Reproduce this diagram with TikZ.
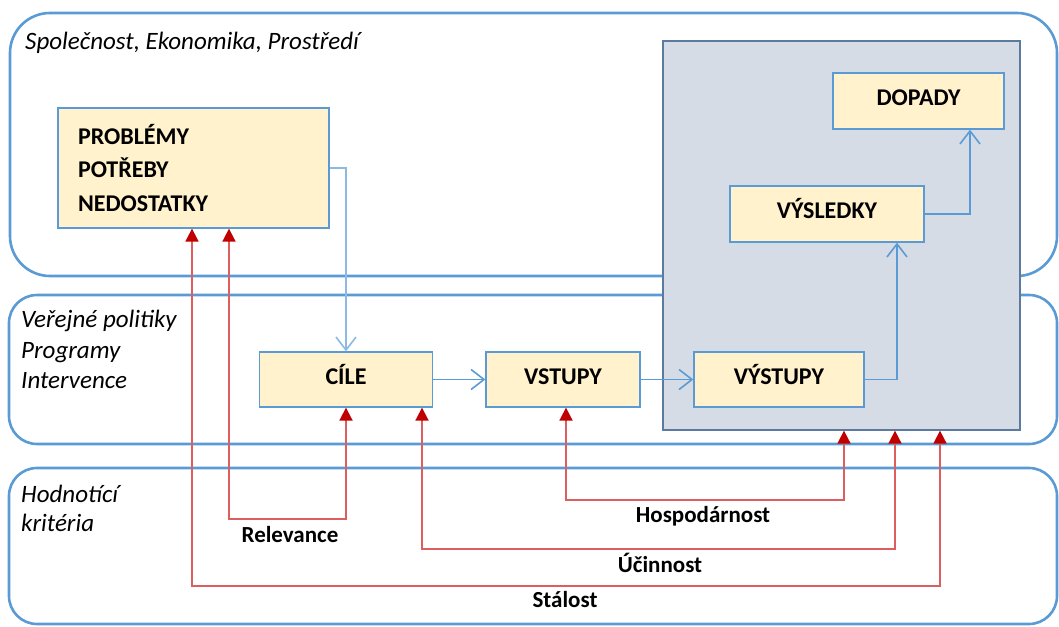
\documentclass[tikz,border=0pt]{standalone}
\usepackage{fontspec}
\setmainfont{Carlito}
\usetikzlibrary{arrows.meta}
\definecolor{regionblue}{HTML}{5B9BD5}
\definecolor{paleblue}{HTML}{8DB9E3}
\definecolor{stagefill}{HTML}{FFF2CC}
\definecolor{impactfill}{HTML}{D6DCE5}
\definecolor{impactedge}{HTML}{5A7AA0}
\definecolor{critred}{HTML}{C00000}
\definecolor{critline}{HTML}{DD5E5E}
\tikzset{
  flowhead/.tip={Straight Barb[length=13pt,width=20pt]},
  crithead/.tip={Triangle[length=13pt,width=13pt,color=critred]},
  region/.style={draw=regionblue, line width=2.6pt},
  regionlabel/.style={anchor=west, inner sep=0pt, font=\fontsize{25}{30}\selectfont\itshape},
  stage/.style={draw=regionblue, fill=stagefill, line width=1.3pt, minimum height=55pt, inner sep=0pt, font=\fontsize{24}{33.5}\selectfont\bfseries},
  onestage/.style={stage, text height=16pt, text depth=6.5pt},
  flow/.style={draw=regionblue, line width=1.6pt, -flowhead},
  crit/.style={draw=critline, line width=1.8pt, crithead-crithead},
  critlabel/.style={inner sep=0pt, font=\fontsize{23}{28}\selectfont\bfseries}
}
\begin{document}
\begin{tikzpicture}[x=1pt, y=-1pt]
\useasboundingbox (0,0) rectangle (1059,626);

% the three levels
\draw[region, rounded corners=40pt] (10,13) rectangle (1057,276);
\draw[region, rounded corners=28pt] (9,295) rectangle (1057,444);
\draw[region, rounded corners=28pt] (9,468) rectangle (1057,624);
\node[regionlabel] (society) at (25,43) {Společnost, Ekonomika, Prostředí};
\node[regionlabel] (policy) at (21,321) {Veřejné politiky};
\node[regionlabel] (programs) at (21,353) {Programy};
\node[regionlabel] (interv) at (21,381) {Intervence};
\node[regionlabel] (criteria) at (21,494) {Hodnotící};
\node[regionlabel] (criteria2) at (21,523) {kritéria};

% results block
\node[draw=impactedge, fill=impactfill, line width=1.3pt, minimum width=357pt, minimum height=389pt, inner sep=0pt] (impact) at (841.5,235.5) {};

% stages
\node[stage, minimum width=271pt, minimum height=120pt, text width=231pt, align=left] (prob) at (193.5,168) {PROBLÉMY\\POTŘEBY\\NEDOSTATKY};
\node[onestage, minimum width=173pt] (cile) at (346,379.5) {CÍLE};
\node[onestage, minimum width=154pt] (vstupy) at (563,379.5) {VSTUPY};
\node[onestage, minimum width=170pt] (vystupy) at (779,379.5) {VÝSTUPY};
\node[onestage, minimum width=194pt, minimum height=56pt] (vysledky) at (827,214) {VÝSLEDKY};
\node[onestage, minimum width=171pt, minimum height=56pt] (dopady) at (918.5,101) {DOPADY};

% intervention logic
\draw[flow, draw=paleblue] (prob.east) -| (cile.north);
\draw[flow] (cile) -- (vstupy);
\draw[flow] (vstupy) -- (vystupy);
\draw[flow] (vystupy.east) -| ([xshift=70pt]vysledky.south);
\draw[flow] (vysledky.east) -| ([xshift=51.5pt]dopady.south);

% evaluation criteria
\draw[crit] ([xshift=35.5pt]prob.south) -- ++(0,290) -| (cile.south);
\draw[crit] ([xshift=3pt]vstupy.south) -- ++(0,92) -| ([xshift=2.5pt]impact.south);
\draw[crit] ([xshift=76pt]cile.south) -- ++(0,141) -| ([xshift=53.5pt]impact.south);
\draw[crit] ([xshift=-1.5pt]prob.south) -- ++(0,357) -| ([xshift=98.5pt]impact.south);
\node[critlabel] (relevance) at (290,535) {Relevance};
\node[critlabel] (economy) at (703,516) {Hospodárnost};
\node[critlabel] (effect) at (660,563) {Účinnost};
\node[critlabel] (lasting) at (565,600) {Stálost};
\end{tikzpicture}
\end{document}
